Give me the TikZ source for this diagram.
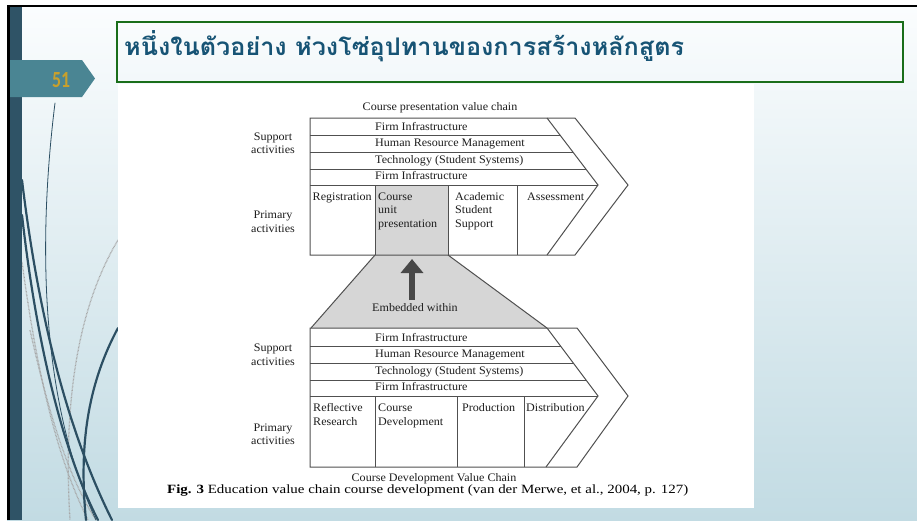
\documentclass[tikz,border=0pt]{standalone}
\usepackage{fontspec}
\usepackage{graphicx}
\setmainfont{Liberation Serif}
\newfontfamily\thaifont[Script=Thai]{Loma}
\newfontfamily\numfont{Carlito}
\usetikzlibrary{arrows.meta}
\definecolor{bgtop}{HTML}{FBFDFE}
\definecolor{bgbot}{HTML}{C2DBE3}
\definecolor{strip}{HTML}{2F5366}
\definecolor{tabc}{HTML}{4A8593}
\definecolor{gold}{HTML}{C8A02C}
\definecolor{tgreen}{RGB}{26,110,26}
\definecolor{tblue}{RGB}{23,84,117}
\definecolor{curvec}{HTML}{2C4F63}
\definecolor{linec}{HTML}{505050}
\definecolor{txtc}{HTML}{1E1E1E}
\definecolor{cellgray}{HTML}{D6D6D6}
\definecolor{arrc}{HTML}{484848}
\newcommand{\st}[1]{\scalebox{1.05}[1]{#1}}
\newcommand{\cellt}[1]{\scalebox{1.05}[1]{\begin{tabular}[t]{@{}l@{}}#1\end{tabular}}}
\newcommand{\ctrt}[1]{\scalebox{1.05}[1]{\begin{tabular}[t]{@{}c@{}}#1\end{tabular}}}
\tikzset{
  curve/.style={draw=curvec, line cap=round},
  dotc/.style={draw=gray!70, line width=1.3pt, dash pattern=on 0.7pt off 0.7pt},
  chain/.style={draw=linec, line width=1pt, line join=miter},
  txt/.style={font=\fontsize{11.5}{13.8}\selectfont, inner sep=0pt, text=txtc},
  lab/.style={txt, anchor=base west},
  side/.style={txt, anchor=base},
}
\begin{document}
\begin{tikzpicture}[x=1pt,y=-1pt]
\useasboundingbox (0,0) rectangle (917,520);
\fill[white] (0,0) rectangle (917,520);
\shade[top color=bgtop,bottom color=bgbot] (7,5) rectangle (917,520);
% decorative curves
\begin{scope}
\clip (22,5) rectangle (118,520);
\draw[dotc] (22,262) .. controls (38,380) and (58,460) .. (88,520);
\draw[dotc] (118,240) .. controls (82,300) and (62,390) .. (70,520);
\draw[dotc] (30,330) .. controls (50,420) and (70,480) .. (96,520);
\draw[curve, line width=0.8pt] (55,103) .. controls (38,240) and (40,400) .. (96,520);
\draw[curve, line width=2.2pt] (22,180) .. controls (40,330) and (72,440) .. (112,520);
\draw[curve, line width=2.2pt] (22,215) .. controls (36,340) and (62,450) .. (98,520);
\draw[curve, line width=2.2pt] (118,328) .. controls (90,380) and (78,440) .. (86,520);
\end{scope}
\fill[strip] (10,7) rectangle (22,520);
\fill[black] (7,5) rectangle (10,520);
\fill[black] (7,5) rectangle (917,7);
% slide number tab
\fill[tabc] (10,60) -- (82,60) -- (95,78.5) -- (82,97) -- (10,97) -- cycle;
\node[inner sep=0pt, text=gold] (num) at (61,80) {\resizebox{18pt}{15pt}{\numfont\bfseries 51}};
% title box
\draw[tgreen, line width=2pt] (117,22) rectangle (903,82);
\node[anchor=base west, inner sep=0pt, text=tblue] (title) at (124,55)
  {\resizebox{560pt}{25pt}{\thaifont\bfseries หนึ่งในตัวอย่าง ห่วงโซ่อุปทานของการสร้างหลักสูตร}};
% white figure area
\fill[white] (118,83.5) rectangle (754,508);
% shaded cell and trapezoid
\fill[cellgray] (375,185) rectangle (448,255);
\fill[cellgray] (375,255) -- (448,255) -- (547,328) -- (311,328) -- cycle;
\draw[chain] (375,255) -- (311,328);
\draw[chain] (448,255) -- (547,328);
% upper chain
\draw[chain] (310,118) -- (575,118) -- (628,185) -- (575,255) -- (310,255) -- cycle;
\draw[chain] (547,118) -- (598,185) -- (547,255);
\draw[chain] (310,135) -- (559.9,135);
\draw[chain] (310,152) -- (572.9,152);
\draw[chain] (310,169) -- (585.8,169);
\draw[chain] (310,185) -- (598,185);
\draw[chain] (375,185) -- (375,255);
\draw[chain] (448,185) -- (448,255);
\draw[chain] (517,185) -- (517,255);
% lower chain
\draw[chain] (310,328) -- (577,328) -- (628,396) -- (577,467) -- (310,467) -- cycle;
\draw[chain] (547,328) -- (598,396) -- (546,467);
\draw[chain] (310,346) -- (560.5,346);
\draw[chain] (310,363) -- (573.3,363);
\draw[chain] (310,380) -- (586,380);
\draw[chain] (310,396) -- (598,396);
\draw[chain] (375,396) -- (375,467);
\draw[chain] (457,396) -- (457,467);
\draw[chain] (524,396) -- (524,467);
% upper texts
\node[side] (uptitle) at (440,110) {\st{Course presentation value chain}};
\node[lab] (uFI1) at (375,130) {\st{Firm Infrastructure}};
\node[lab] (uHRM) at (375,146) {\st{Human Resource Management}};
\node[lab] (uTech) at (375,163) {\st{Technology (Student Systems)}};
\node[lab] (uFI2) at (375,179) {\st{Firm Infrastructure}};
\node[lab] (uReg) at (312.5,200) {\cellt{Registration}};
\node[lab] (uCUP) at (378,200) {\cellt{Course\\unit\\presentation}};
\node[lab] (uASS) at (455,200) {\cellt{Academic\\Student\\Support}};
\node[lab] (uAss) at (527,200) {\cellt{Assessment}};
\node[side] (uSup) at (273,140) {\ctrt{Support\\activities}};
\node[side] (uPri) at (273,218.5) {\ctrt{Primary\\activities}};
% arrow
\coordinate (arrS) at (412,300);
\coordinate (arrE) at (412,259);
\draw[arrc, line width=6pt, -{Triangle[length=14pt,width=22pt]}] (arrS) -- (arrE);
\node[side] (emb) at (415,311.5) {\st{Embedded within}};
% lower texts
\node[lab] (lFI1) at (375,341) {\st{Firm Infrastructure}};
\node[lab] (lHRM) at (375,357) {\st{Human Resource Management}};
\node[lab] (lTech) at (375,374) {\st{Technology (Student Systems)}};
\node[lab] (lFI2) at (375,390) {\st{Firm Infrastructure}};
\node[lab] (lRR) at (313,411.5) {\cellt{Reflective\\Research}};
\node[lab] (lCD) at (378,411.5) {\cellt{Course\\Development}};
\node[lab] (lProd) at (462,411.5) {\cellt{Production}};
\node[lab] (lDist) at (526,411.5) {\cellt{Distribution}};
\node[side] (lSup) at (273,351.5) {\ctrt{Support\\activities}};
\node[side] (lPri) at (273,431) {\ctrt{Primary\\activities}};
\node[side] (lowtitle) at (434,481.5) {\st{Course Development Value Chain}};
% caption
\node[anchor=base west, inner sep=0pt, text=black] (cap) at (167,493)
  {\resizebox{521pt}{\height}{\fontsize{12.6}{15}\selectfont\textbf{Fig. 3} Education value chain course development (van der Merwe, et al., 2004, p. 127)}};
\end{tikzpicture}
\end{document}
